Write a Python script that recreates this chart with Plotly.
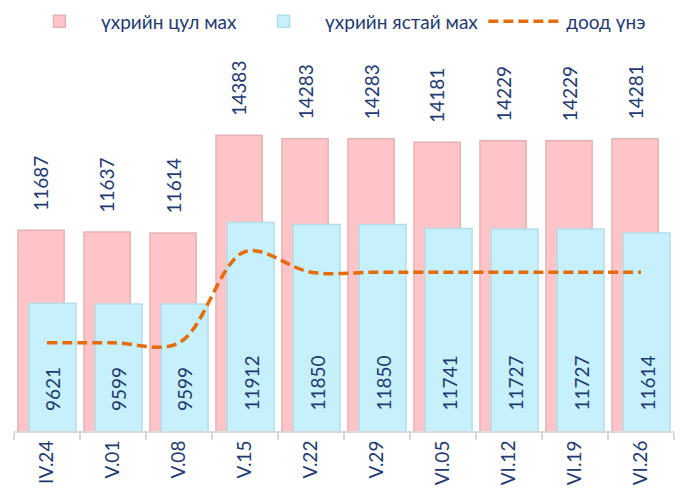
import plotly.graph_objects as go

categories = ["IV.24", "V.01", "V.08", "V.15", "V.22", "V.29", "VI.05", "VI.12", "VI.19", "VI.26"]
tsul_mah = [11687, 11637, 11614, 14383, 14283, 14283, 14181, 14229, 14229, 14281]
yastai_mah = [9621, 9599, 9599, 11912, 11850, 11850, 11741, 11727, 11727, 11614]
dood_une = [8500, 8500, 8500, 11080, 10500, 10500, 10500, 10500, 10500, 10500]

series_names = ["үхрийн цул мах", "үхрийн ястай мах", "доод үнэ"]

FONT = "Lato, 'Noto Sans', sans-serif"
TXT = "#1F3A70"

fig = go.Figure()
fig.add_trace(go.Bar(
    x=categories, y=tsul_mah, name=series_names[0],
    width=0.70, offset=-0.44,
    marker=dict(color="#FFC4C7", line=dict(color="#E6B2B6", width=1.5)),
))
fig.add_trace(go.Bar(
    x=categories, y=yastai_mah, name=series_names[1],
    width=0.71, offset=-0.27,
    marker=dict(color="#C6F0FC", line=dict(color="#B5DDE9", width=1.5)),
))
fig.add_trace(go.Scatter(
    x=categories, y=dood_une, name=series_names[2], mode="lines",
    line=dict(color="#E46C0A", width=3.5, dash="10px,5px", shape="spline", smoothing=1.0),
))

annotations = []
for c, v in zip(categories, tsul_mah):
    annotations.append(dict(
        x=c, y=v, xref="x", yref="y", text=str(v), showarrow=False,
        textangle=-90, yanchor="bottom", xanchor="center", xshift=-6, yshift=17,
        font=dict(family=FONT, size=19, color=TXT),
    ))
for c, v in zip(categories, yastai_mah):
    annotations.append(dict(
        x=c, y=6000, xref="x", yref="y", text=str(v), showarrow=False,
        textangle=-90, yanchor="bottom", xanchor="center", xshift=6, yshift=18,
        font=dict(family=FONT, size=19, color=TXT),
    ))

fig.update_layout(
    width=681, height=495,
    margin=dict(l=14, r=7, t=40, b=64),
    paper_bgcolor="white", plot_bgcolor="white",
    barmode="overlay",
    font=dict(family=FONT, size=19, color=TXT),
    showlegend=True,
    legend=dict(orientation="h", x=0.006, xref="paper", y=0.957, yref="container",
                xanchor="left", yanchor="middle",
                font=dict(family=FONT, size=19, color=TXT), itemwidth=73,
                tracegroupgap=0),
    annotations=annotations,
    xaxis=dict(
        type="category", tickangle=-90, automargin=False,
        showline=True, linecolor="#D9D9D9", linewidth=2,
        ticks="outside", tickson="boundaries", ticklen=7, tickcolor="#D9D9D9", tickwidth=2,
        tickfont=dict(family=FONT, size=19, color=TXT),
        showgrid=False, range=[-0.5, 9.5],
    ),
    yaxis=dict(visible=False, range=[6000, 17073], showgrid=False, zeroline=False),
)

fig.write_html("out.html", config={"displayModeBar": False},
               post_script="document.body.style.margin='0';")
